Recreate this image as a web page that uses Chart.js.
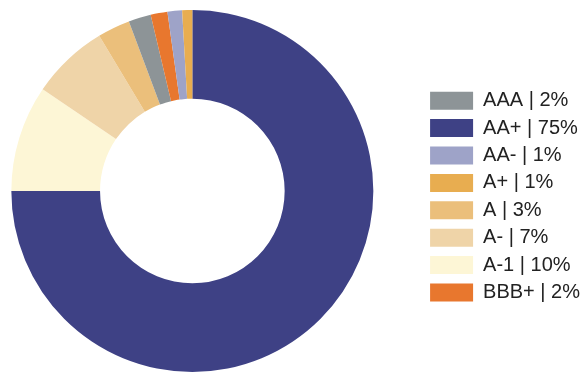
<!DOCTYPE html>
<html>
<head>
<meta charset="utf-8">
<script src="https://cdn.jsdelivr.net/npm/chart.js@4"></script>
<style>
  html, body { margin: 0; padding: 0; background: #fff; overflow: hidden; }
  /* canvas runs a little past both page edges so the doughnut sits where the original does */
  #wrap { width: 628px; height: 373px; margin-left: -38px; }
</style>
</head>
<body>
<div id="wrap"><canvas id="ratingChart"></canvas></div>
<script>
// Rating breakdown, in slice order clockwise from 12 o'clock
const categories = ['AA+', 'A-1', 'A-', 'A', 'AAA', 'BBB+', 'AA-', 'A+'];
const shares = [75, 9.5, 6.9, 2.9, 2.0, 1.5, 1.3, 0.9];
const shownPct = ['75%', '10%', '7%', '3%', '2%', '2%', '1%', '1%'];
const sliceColors = ['#3e4185', '#fdf6d6', '#efd4a8', '#ebbf7b', '#8d9497', '#e8772e', '#9ea3c8', '#e8ad50'];

// Legend is listed in a different order than the slices
const legendOrder = ['AAA', 'AA+', 'AA-', 'A+', 'A', 'A-', 'A-1', 'BBB+'];

const legendLabels = categories.map((c, i) => c + ' | ' + shownPct[i]);

const ctx = document.getElementById('ratingChart').getContext('2d');
const ratingChart = new Chart(ctx, {
    type: 'doughnut',
    data: {
        labels: legendLabels,
        datasets: [{
            data: shares,
            backgroundColor: sliceColors,
            borderWidth: 0
        }]
    },
    options: {
        responsive: true,
        maintainAspectRatio: false,
        animation: false,
        cutout: '51%',
        layout: {
            padding: { left: 0, right: 0, top: 10, bottom: 1 }
        },
        plugins: {
            tooltip: { enabled: false },
            legend: {
                position: 'right',
                // empty title only nudges the legend column down a few px
                title: {
                    display: true,
                    text: '',
                    font: { size: 1, lineHeight: 0 },
                    padding: { top: 5.6, bottom: 5.6 }
                },
                labels: {
                    boxWidth: 43,
                    boxHeight: 18,
                    padding: 7.4,
                    color: '#222',
                    font: { family: 'Liberation Sans, Arial, sans-serif', size: 20 },
                    sort: function(a, b) {
                        return legendOrder.indexOf(categories[a.index]) - legendOrder.indexOf(categories[b.index]);
                    }
                }
            }
        }
    }
});
</script>
</body>
</html>
